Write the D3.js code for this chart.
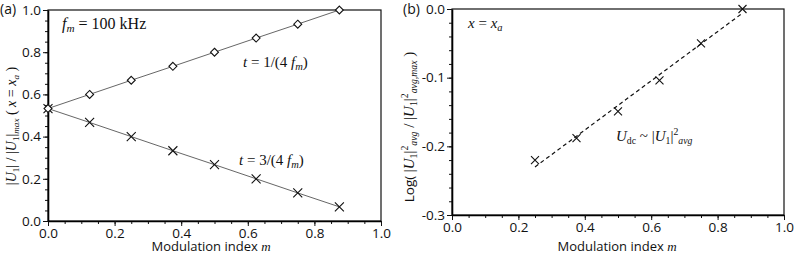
<!DOCTYPE html>
<html lang="en">
<head>
  <meta charset="UTF-8">
  <script src="https://cdn.jsdelivr.net/npm/d3@7/dist/d3.min.js"></script>
  <title>Modulation index</title>
  <style>
    body { margin: 0; background: white; }
    .tick text { font-family: "Open Sans", sans-serif; font-size: 13.5px; fill: #111; }
    .serif { font-family: "Liberation Serif", "Times New Roman", serif; fill: #111; }
    .sans { font-family: "Open Sans", sans-serif; fill: #111; }
  </style>
</head>
<body>
  <script>
    // panel (a) data
    const mA = [0, 0.125, 0.25, 0.375, 0.5, 0.625, 0.75, 0.875];
    const quarterVals = [0.533, 0.6, 0.667, 0.733, 0.8, 0.867, 0.933, 1.0];   // t = 1/(4 fm)
    const threeQVals = [0.533, 0.467, 0.4, 0.333, 0.267, 0.2, 0.133, 0.067]; // t = 3/(4 fm)
    const ticksA = [0, 0.2, 0.4, 0.6, 0.8, 1.0];

    // panel (b) data
    const mB = [0.25, 0.375, 0.5, 0.625, 0.75, 0.875];
    const logVals = [-0.22, -0.188, -0.149, -0.104, -0.05, 0.0];
    const fitM = [0.25, 0.875];
    const fitVals = [-0.23, -0.006];
    const ticksBx = [0, 0.2, 0.4, 0.6, 0.8, 1.0];
    const ticksBy = [0, -0.1, -0.2, -0.3];

    const svg = d3.select('body').append('svg')
      .attr('width', 796)
      .attr('height', 254);

    // plain hyphen as minus, like the original tick labels
    const fmt = d => (d < 0 ? '-' : '') + d3.format('.1f')(Math.abs(d));

    // rich text helper: parts of {t, i (italic), s (shift down px), z (size factor), f (font class)}
    function rich(sel, parts, size) {
      let cur = 0;
      parts.forEach(p => {
        const s = p.s || 0;
        sel.append('tspan')
          .attr('class', p.f || null)
          .attr('dy', s - cur)
          .attr('font-size', size * (p.z || 1))
          .attr('font-style', p.i ? 'italic' : 'normal')
          .text(p.t);
        cur = s;
      });
      return sel;
    }

    function frame(x, y, xTicks, yTicks, xMinor, yMinor) {
      const g = svg.append('g');
      const [x0, x1] = x.range();
      const [y0, y1] = y.range();
      g.append('rect')
        .attr('x', x0).attr('y', y1)
        .attr('width', x1 - x0).attr('height', y0 - y1)
        .attr('fill', 'none').attr('stroke', '#111').attr('stroke-width', 1.2);

      g.append('g').attr('transform', `translate(0,${y0})`)
        .call(d3.axisBottom(x).tickValues(xMinor).tickSize(3).tickFormat('').tickSizeOuter(0))
        .call(a => a.select('.domain').remove());
      g.append('g').attr('transform', `translate(${x0},0)`)
        .call(d3.axisLeft(y).tickValues(yMinor).tickSize(3).tickFormat('').tickSizeOuter(0))
        .call(a => a.select('.domain').remove());

      g.append('g').attr('transform', `translate(0,${y0})`)
        .call(d3.axisBottom(x).tickValues(xTicks).tickSize(5).tickPadding(2).tickFormat(fmt).tickSizeOuter(0))
        .call(a => a.select('.domain').attr('stroke-width', 1.6));
      g.append('g').attr('transform', `translate(${x0},0)`)
        .call(d3.axisLeft(y).tickValues(yTicks).tickSize(5).tickPadding(2).tickFormat(fmt).tickSizeOuter(0))
        .call(a => a.select('.domain').attr('stroke-width', 1.6));
      g.selectAll('.tick line').attr('stroke', '#111');
      return g;
    }

    function crosses(sel, pts, r) {
      sel.selectAll(null).data(pts).enter().append('path')
        .attr('d', d => `M${d[0] - r},${d[1] - r}L${d[0] + r},${d[1] + r}M${d[0] - r},${d[1] + r}L${d[0] + r},${d[1] - r}`)
        .attr('stroke', '#111').attr('stroke-width', 1.1).attr('fill', 'none');
    }

    /******************** panel (a) ********************/
    const xA = d3.scaleLinear().domain([0, 1]).range([48, 381]);
    const yA = d3.scaleLinear().domain([0, 1]).range([221, 10]);
    const minorA = d3.range(0, 1.0001, 0.05);
    frame(xA, yA, ticksA, ticksA, minorA, minorA);

    const lineA = d3.line().x(d => xA(d[0])).y(d => yA(d[1]));
    const ptsQ = mA.map((m, i) => [m, quarterVals[i]]);
    const pts3Q = mA.map((m, i) => [m, threeQVals[i]]);
    [ptsQ, pts3Q].forEach(p => {
      svg.append('path').datum(p).attr('d', lineA)
        .attr('fill', 'none').attr('stroke', '#555').attr('stroke-width', 0.9);
    });
    crosses(svg.append('g'), pts3Q.map(d => [xA(d[0]), yA(d[1])]), 4.5);
    svg.append('g').selectAll('path').data(ptsQ).enter().append('path')
      .attr('d', d3.symbol().type(d3.symbolDiamond2).size(40))
      .attr('transform', d => `translate(${xA(d[0])},${yA(d[1])})`)
      .attr('fill', 'white').attr('stroke', '#111').attr('stroke-width', 1.1);

    rich(svg.append('text').attr('class', 'serif').attr('x', 62).attr('y', 29), [
      { t: 'f', i: true }, { t: 'm', i: true, s: 3, z: 0.7 }, { t: ' = 100 kHz', s: 0 }
    ], 16);
    rich(svg.append('text').attr('class', 'serif').attr('x', 243).attr('y', 67), [
      { t: 't', i: true }, { t: ' = 1/(4 ' }, { t: 'f', i: true }, { t: 'm', i: true, s: 3, z: 0.7 }, { t: ')', s: 0 }
    ], 15);
    rich(svg.append('text').attr('class', 'serif').attr('x', 239).attr('y', 165), [
      { t: 't', i: true }, { t: ' = 3/(4 ' }, { t: 'f', i: true }, { t: 'm', i: true, s: 3, z: 0.7 }, { t: ')', s: 0 }
    ], 15);

    rich(svg.append('text').attr('class', 'serif').attr('text-anchor', 'middle')
      .attr('transform', 'translate(16,126) rotate(-90)').attr('fill', '#333'), [
      { t: '|' }, { t: 'U', i: true }, { t: '1', s: 3, z: 0.65 }, { t: '| / |', s: 0 }, { t: 'U', i: true },
      { t: '1', s: 3, z: 0.65 }, { t: '|', s: 0 }, { t: 'max', i: true, s: 3, z: 0.65 },
      { t: ' ( ', s: 0 }, { t: 'x', i: true }, { t: ' = ' }, { t: 'x', i: true }, { t: 'a', i: true, s: 3, z: 0.65 }, { t: ' )', s: 0 }
    ], 14);

    rich(svg.append('text').attr('class', 'sans').attr('text-anchor', 'middle').attr('x', 211).attr('y', 251), [
      { t: 'Modulation index ' }, { t: 'm', i: true, f: 'serif' }
    ], 13);
    svg.append('text').attr('class', 'sans').attr('x', 0).attr('y', 14).attr('font-size', 14).text('(a)');

    /******************** panel (b) ********************/
    const xB = d3.scaleLinear().domain([0, 1]).range([452, 784]);
    const yB = d3.scaleLinear().domain([-0.3, 0]).range([215, 9]);
    frame(xB, yB, ticksBx, ticksBy, d3.range(0, 1.0001, 0.05), d3.range(-0.3, 0.0001, 0.02));

    svg.append('path').datum(fitM.map((m, i) => [m, fitVals[i]]))
      .attr('d', d3.line().x(d => xB(d[0])).y(d => yB(d[1])))
      .attr('fill', 'none').attr('stroke', '#111').attr('stroke-width', 1.2).attr('stroke-dasharray', '4,3');
    crosses(svg.append('g'), mB.map((m, i) => [xB(m), yB(logVals[i])]), 4);

    rich(svg.append('text').attr('class', 'serif').attr('x', 468).attr('y', 28), [
      { t: 'x', i: true }, { t: ' = ' }, { t: 'x', i: true }, { t: 'a', i: true, s: 3, z: 0.7 }
    ], 15);
    rich(svg.append('text').attr('class', 'serif').attr('x', 616).attr('y', 141), [
      { t: 'U', i: true }, { t: 'dc', s: 3, z: 0.65 }, { t: ' ~ |', s: 0 }, { t: 'U', i: true }, { t: '1', s: 3, z: 0.65 },
      { t: '|', s: 0 }, { t: '2', s: -6, z: 0.65 }, { t: 'avg', i: true, s: 3, z: 0.65 }
    ], 15);

    rich(svg.append('text').attr('class', 'serif').attr('text-anchor', 'middle')
      .attr('transform', 'translate(414,127) rotate(-90)').attr('fill', '#333'), [
      { t: 'Log( ', f: 'sans', z: 0.9 }, { t: '|' }, { t: 'U', i: true }, { t: '1', s: 3, z: 0.65 }, { t: '|', s: 0 },
      { t: '2', s: -6, z: 0.65 }, { t: 'avg', i: true, s: 3, z: 0.65 }, { t: ' / |', s: 0 }, { t: 'U', i: true },
      { t: '1', s: 3, z: 0.65 }, { t: '|', s: 0 }, { t: '2', s: -6, z: 0.65 }, { t: 'avg,max', i: true, s: 3, z: 0.65 },
      { t: ' )', s: 0 }
    ], 15);

    rich(svg.append('text').attr('class', 'sans').attr('text-anchor', 'middle').attr('x', 617).attr('y', 251), [
      { t: 'Modulation index ' }, { t: 'm', i: true, f: 'serif' }
    ], 13);
    svg.append('text').attr('class', 'sans').attr('x', 403).attr('y', 14).attr('font-size', 14).text('(b)');
  </script>
</body>
</html>
